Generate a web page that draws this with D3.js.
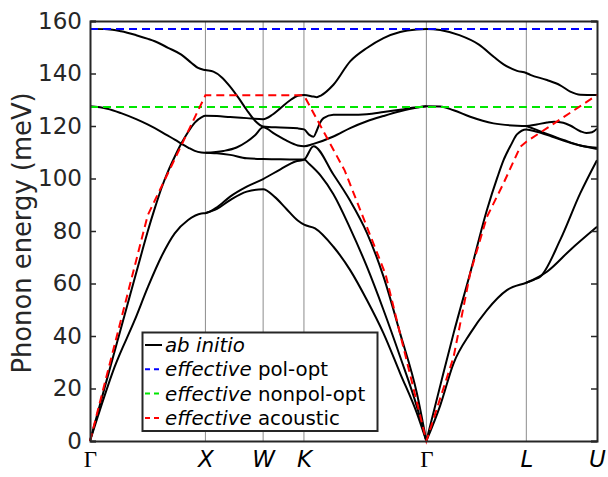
<!DOCTYPE html>
<html><head><meta charset="utf-8">
<script src="https://cdn.jsdelivr.net/npm/d3@7"></script>
<style>body{margin:0;background:#fff} svg{display:block}</style>
</head><body>
<svg id="c" width="608" height="477"></svg>
<script>
// ---- data ----
const kTicks  = [0, 1, 1.5, 1.8536, 2.9142, 3.7802, 4.3926];
const kLabels = ["Γ", "X", "W", "K", "Γ", "L", "U"];
const yTicks  = [0, 20, 40, 60, 80, 100, 120, 140, 160];

// ab initio branches: [k, energy meV]
const bandA = [[0,157],[0.15,156.9],[0.269,156.1],[0.40,154.6],[0.503,153.2],[0.561,152.3],[0.676,149.8],[0.791,147.2],[0.88,144],[0.936,142.1],[1,141.3],[1.069,140.7],[1.14,138.6],[1.214,135],[1.29,130.5],[1.358,126.1],[1.43,122],[1.5,119.8],[1.65,119.4],[1.80,119.1],[1.855,118.7],[1.90,116.6],[1.936,115.9],[1.965,118.3],[1.994,121.3],[2.023,123],[2.109,124.3],[2.254,124.3],[2.399,124.5],[2.543,125.3],[2.687,126.2],[2.832,127.1],[2.914,127.5],[3.034,127.4],[3.15,126],[3.294,123.5],[3.496,121],[3.70,120.1],[3.78,120],[3.87,120.6],[3.96,121.3],[4.02,121.6],[4.10,121.2],[4.16,120.2],[4.248,118],[4.30,117.3],[4.35,117.6],[4.3926,119]];
const bandB = [[0,127.5],[0.15,126.6],[0.269,124.9],[0.40,122.6],[0.503,120.5],[0.618,117.8],[0.734,114.8],[0.85,111.8],[0.908,110.5],[0.965,109.9],[1,109.8],[1.1,109.6],[1.214,109],[1.358,107.7],[1.5,107.4],[1.65,107.3],[1.855,107.2],[1.9,105.5],[2.0,101],[2.109,94],[2.254,81],[2.399,66.4],[2.543,49.9],[2.687,32.1],[2.832,13.1],[2.914,0]];
const bandC = [[1,109.8],[1.156,110.5],[1.27,111.8],[1.358,114],[1.43,116.5],[1.5,119.5],[1.6,117],[1.7,114.5],[1.8,112.6],[1.855,112.3],[1.936,113.2],[2.109,116],[2.254,119.2],[2.399,121.8],[2.543,123.8],[2.687,125.6],[2.832,127],[2.914,127.5]];
const bandD = [[0,0],[0.156,25],[0.3,48],[0.45,72],[0.503,80.3],[0.561,88.6],[0.618,96.2],[0.676,102.7],[0.734,108.3],[0.791,113.3],[0.85,117.7],[0.908,121.3],[0.965,123.3],[1,123.9],[1.1,123.8],[1.214,123.4],[1.358,123],[1.5,122.6],[1.58,124.3],[1.65,126.8],[1.74,130],[1.80,131.5],[1.855,131.8],[1.936,131.2],[1.965,131],[2.0,131.6],[2.109,135.7],[2.254,144.6],[2.399,149.7],[2.543,153.5],[2.687,155.8],[2.832,156.8],[2.914,157],[3.034,156.6],[3.2,154.6],[3.37,151],[3.50,146.3],[3.583,143.5],[3.70,141],[3.78,140.2],[3.815,139.5],[3.959,137.5],[4.074,135.5],[4.161,133.1],[4.248,131.9],[4.3926,131.8]];
const bandE = [[0,0],[0.069,9.5],[0.214,28.3],[0.388,46.1],[0.503,58.8],[0.618,70.2],[0.734,79.1],[0.85,84.2],[0.965,86.7],[1,86.8],[1.1,89],[1.214,93.1],[1.358,96.9],[1.5,99.8],[1.65,103.5],[1.78,106.5],[1.855,107.2],[1.936,112.3],[2.109,101.5],[2.254,91.5],[2.399,79.3],[2.543,62.6],[2.687,41],[2.832,18.2],[2.914,0]];
const bandF = [[1,86.8],[1.1,88.4],[1.214,91.8],[1.358,95],[1.5,95.9],[1.6,93],[1.7,88.5],[1.8,84],[1.855,82.4],[1.95,81],[2.109,74],[2.254,65.1],[2.399,53.7],[2.543,41],[2.687,25.8],[2.832,10.6],[2.914,0]];
const bandG = [[2.914,0],[3.034,21],[3.15,41],[3.294,64],[3.439,88],[3.53,100.5],[3.583,107],[3.65,113],[3.699,116.8],[3.78,118.7],[3.872,117.8],[4.0,116],[4.161,113.6],[4.3926,111.2]];
const bandH = [[3.78,120],[3.87,118.5],[3.959,117],[4.102,114.7],[4.248,112.6],[4.306,112.1],[4.3926,111.7]];
const bandI = [[2.914,0],[3.034,13.5],[3.15,29.6],[3.294,41],[3.439,49.9],[3.612,57.5],[3.78,60.3],[3.85,61.5],[3.901,62.6],[4.074,76.6],[4.248,94.4],[4.3926,107]];
const bandJ = [[3.78,60.3],[3.959,64.5],[4.161,72.8],[4.3926,81.6]];
const abInitio = [bandA, bandB, bandC, bandD, bandE, bandF, bandG, bandH, bandI, bandJ];

// effective models
const polOpt    = 157.0;
const nonpolOpt = 127.2;
const acoustic  = [[0,0],[0.5,86],[1,131.7],[1.8536,131.7],[2.2071,103],[2.5607,63.5],[2.9142,0],[3.15,32],[3.294,63.9],[3.439,85.4],[3.583,98.2],[3.728,112.1],[3.7802,114],[4.3926,131.8]];

const legendItems = [
  {it:"ab initio", rest:"", color:"#000", dash:null},
  {it:"effective", rest:" pol-opt", color:"#0000ff", dash:"5,4"},
  {it:"effective", rest:" nonpol-opt", color:"#00e600", dash:"5,4"},
  {it:"effective", rest:" acoustic", color:"#ff0000", dash:"5,4"}
];

// ---- drawing ----
const svg = d3.select("#c");
const font = "DejaVu Sans, sans-serif";
const x = d3.scaleLinear().domain([0, 4.3926]).range([90, 597]);
const y = d3.scaleLinear().domain([0, 160]).range([441, 21]);

svg.append("g").selectAll("line").data(kTicks.slice(1, -1)).join("line")
  .attr("x1", d => x(d)).attr("x2", d => x(d))
  .attr("y1", y(0)).attr("y2", y(160))
  .attr("stroke", "#8c8c8c").attr("stroke-width", 1);

const smooth = d3.line().x(d => x(d[0])).y(d => y(d[1])).curve(d3.curveMonotoneX);
const straight = d3.line().x(d => x(d[0])).y(d => y(d[1]));

svg.append("g").selectAll("path").data(abInitio).join("path")
  .attr("d", smooth).attr("fill", "none")
  .attr("stroke", "#000").attr("stroke-width", 2).attr("stroke-linejoin", "round");

svg.append("line").attr("x1", x(0)).attr("x2", x(4.3926))
  .attr("y1", y(polOpt)).attr("y2", y(polOpt))
  .attr("stroke", "#0000ff").attr("stroke-width", 2).attr("stroke-dasharray", "8,5");
svg.append("line").attr("x1", x(0)).attr("x2", x(4.3926))
  .attr("y1", y(nonpolOpt)).attr("y2", y(nonpolOpt))
  .attr("stroke", "#00e600").attr("stroke-width", 2).attr("stroke-dasharray", "8,5");
svg.append("path").attr("d", straight(acoustic)).attr("fill", "none")
  .attr("stroke", "#ff0000").attr("stroke-width", 2).attr("stroke-dasharray", "8,5");

const axL = svg.append("g").attr("transform", `translate(${x(0)},0)`)
  .call(d3.axisLeft(y).tickValues(yTicks).tickSize(-6).tickPadding(8));
const axR = svg.append("g").attr("transform", `translate(${x(4.3926)},0)`)
  .call(d3.axisRight(y).tickValues(yTicks).tickSize(-6).tickFormat(""));
const axB = svg.append("g").attr("transform", `translate(0,${y(0)})`)
  .call(d3.axisBottom(x).tickValues(kTicks).tickSize(0).tickPadding(10)
        .tickFormat((d, i) => kLabels[i]));
const axT = svg.append("g").attr("transform", `translate(0,${y(160)})`)
  .call(d3.axisTop(x).tickValues([]).tickSize(0));
[axL, axR, axB, axT].forEach(g => {
  g.select(".domain").attr("stroke", "#262626").attr("stroke-width", 2);
  g.selectAll(".tick line").attr("stroke", "#262626").attr("stroke-width", 1.5);
});
axL.selectAll(".tick text").attr("font-family", font).attr("font-size", 23).attr("fill", "#262626");
axB.selectAll(".tick text")
  .attr("font-size", 23).attr("fill", "#000")
  .attr("font-family", d => d === 0 || d === 2.9142 ? "Liberation Serif, serif" : font)
  .attr("font-style", d => d === 0 || d === 2.9142 ? "normal" : "italic");

svg.append("text")
  .attr("transform", `translate(31,${(y(0) + y(160)) / 2 + 2}) rotate(-90)`)
  .attr("text-anchor", "middle").attr("font-family", font).attr("font-size", 25.8)
  .attr("fill", "#262626").text("Phonon energy (meV)");

const lg = svg.append("g");
lg.append("rect").attr("x", 142.5).attr("y", 332.5).attr("width", 235).attr("height", 98.5)
  .attr("fill", "#fff").attr("stroke", "#262626").attr("stroke-width", 2);
const rows = lg.selectAll("g.row").data(legendItems).join("g")
  .attr("transform", (d, i) => `translate(0,${345 + i * 24.3})`);
rows.append("line").attr("x1", 145).attr("x2", 162).attr("y1", 0).attr("y2", 0)
  .attr("stroke", d => d.color).attr("stroke-width", 2)
  .attr("stroke-dasharray", d => d.dash);
const tx = rows.append("text").attr("x", 165).attr("y", 7)
  .attr("font-family", font).attr("font-size", 19.8).attr("fill", "#000");
tx.append("tspan").attr("font-style", "italic").text(d => d.it);
tx.append("tspan").text(d => d.rest);
</script>
</body></html>
